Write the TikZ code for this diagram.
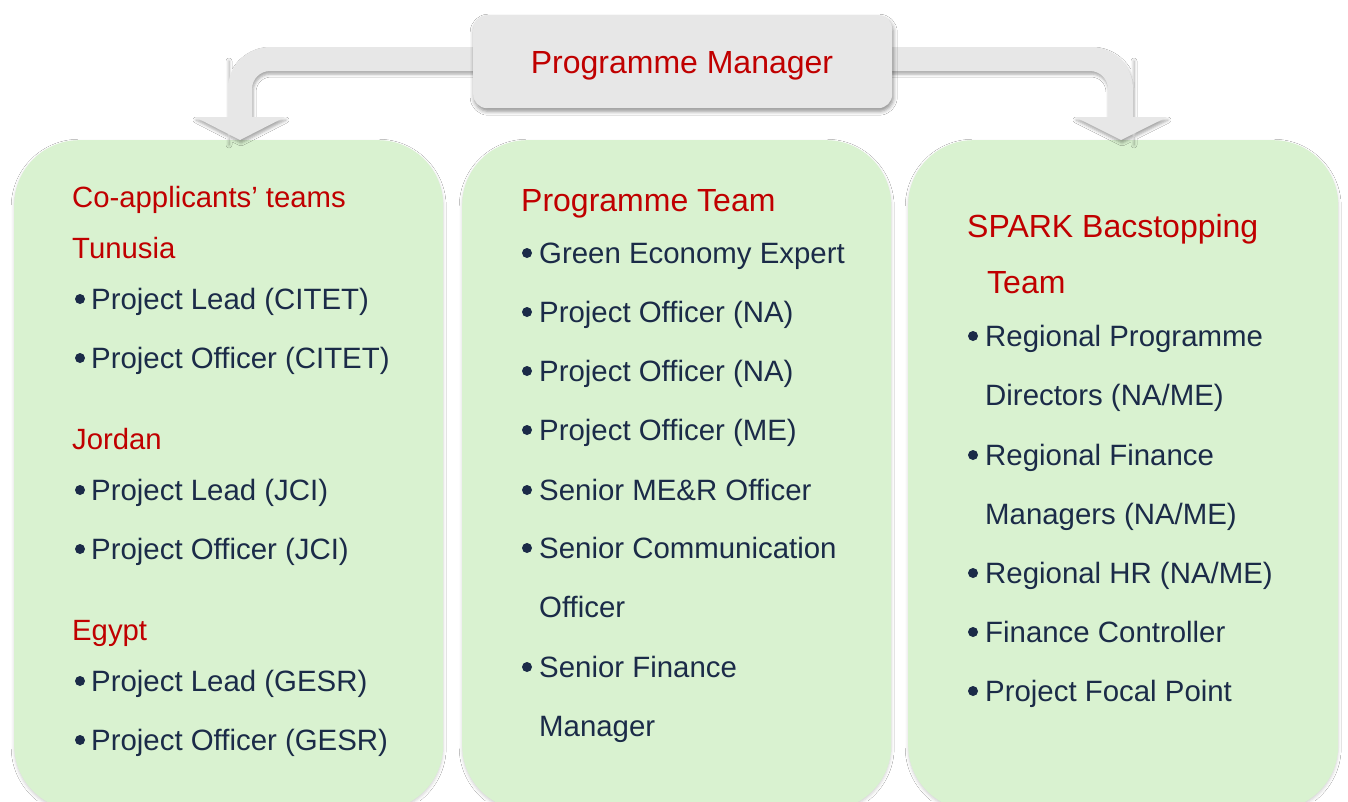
\documentclass[tikz,border=0pt]{standalone}
\usepackage{fontspec}
\setmainfont{Liberation Sans}
\usetikzlibrary{shadows.blur}
\definecolor{hdr}{HTML}{C00000}
\definecolor{bodyc}{HTML}{1B2B48}
\definecolor{boxg}{HTML}{D9F2D0}
\definecolor{greyb}{HTML}{E7E7E7}
\newcommand{\hd}[4]{\node[hdtext] (#1) at (#2,#3) {#4};}
\newcommand{\hdl}[4]{\node[hdtext,font=\fontsize{32}{32}\selectfont] (#1) at (#2,#3) {#4};}
\newcommand{\bl}[5]{\node[dot] (#1b) at (#2,#3-10) {}; \node[bodytext] (#1) at (#4,#3) {#5};}
\newcommand{\cl}[4]{\node[bodytext] (#1) at (#2,#3) {#4};}
\begin{document}
\begin{tikzpicture}[x=1pt,y=-1pt,
  greenbox/.style={fill=boxg, draw=none, rounded corners=65pt, inner sep=0,
    blur shadow={shadow xshift=0pt, shadow yshift=-2pt, shadow blur radius=3pt, shadow opacity=18}},
  topbox/.style={fill=greyb, draw=none, rounded corners=14pt, inner sep=0,
    blur shadow={shadow xshift=1pt, shadow yshift=-3pt, shadow blur radius=4pt, shadow opacity=45}},
  bentarrow/.style={fill=greyb, draw=none,
    blur shadow={shadow xshift=1pt, shadow yshift=-3pt, shadow blur radius=3pt, shadow opacity=35}},
  hdtext/.style={anchor=base west, inner sep=0, text=hdr, font=\fontsize{29.3}{29.3}\selectfont},
  bodytext/.style={anchor=base west, inner sep=0, text=bodyc, font=\fontsize{29.4}{29.4}\selectfont},
  dot/.style={circle, fill=bodyc, inner sep=0, minimum size=10pt},
]
\useasboundingbox (0,0) rectangle (1348,801);
\fill[white] (0,0) rectangle (1348,801);

% green boxes
\node[greenbox, anchor=north west, minimum width=429pt, minimum height=670pt] (left) at (14,140) {};
\node[greenbox, anchor=north west, minimum width=429pt, minimum height=670pt] (mid) at (462,140) {};
\node[greenbox, anchor=north west, minimum width=430pt, minimum height=670pt] (right) at (908,140) {};

% bent arrows
\path[bentarrow] (490,47) [rounded corners=42pt] -- (228,47) -- (228,100) [sharp corners] -- (228,117)
  -- (195,117) -- (240,140) -- (285,117) -- (252,117) -- (252,100) [rounded corners=18pt]
  -- (252,71) -- (320,71) [sharp corners] -- (490,71) -- cycle;
\path[bentarrow] (870,47) [rounded corners=42pt] -- (1133,47) -- (1133,100) [sharp corners] -- (1133,117)
  -- (1167,117) -- (1121,140) -- (1075,117) -- (1108,117) -- (1108,100) [rounded corners=18pt]
  -- (1108,71) -- (1040,71) [sharp corners] -- (870,71) -- cycle;

% top box
\node[topbox, anchor=north west, minimum width=419pt, minimum height=93pt] (pm) at (473,15) {};
\node[anchor=base, inner sep=0, text=hdr, font=\fontsize{32}{32}\selectfont] (pmtext) at (682,73) {Programme Manager};

% left box
\hd{l1}{72}{207}{Co-applicants’ teams}
\hd{l2}{72}{258}{Tunusia}
\bl{l3}{80}{309}{91}{Project Lead (CITET)}
\bl{l4}{80}{368}{91}{Project Officer (CITET)}
\hd{l5}{72}{449}{Jordan}
\bl{l6}{80}{500}{91}{Project Lead (JCI)}
\bl{l7}{80}{559}{91}{Project Officer (JCI)}
\hd{l8}{72}{640}{Egypt}
\bl{l9}{80}{691}{91}{Project Lead (GESR)}
\bl{l10}{80}{750}{91}{Project Officer (GESR)}

% middle box
\hdl{m1}{521}{211}{Programme Team}
\bl{m2}{527}{263}{539}{Green Economy Expert}
\bl{m3}{527}{322}{539}{Project Officer (NA)}
\bl{m4}{527}{381}{539}{Project Officer (NA)}
\bl{m5}{527}{440}{539}{Project Officer (ME)}
\bl{m6}{527}{500}{539}{Senior ME\&R Officer}
\bl{m7}{527}{558}{539}{Senior Communication}
\cl{m8}{539}{617}{Officer}
\bl{m9}{527}{677}{539}{Senior Finance}
\cl{m10}{539}{736}{Manager}

% right box
\hdl{r1}{967}{237}{SPARK Bacstopping}
\hdl{r2}{987}{293}{Team}
\bl{r3}{973}{346}{985}{Regional Programme}
\cl{r4}{985}{405}{Directors (NA/ME)}
\bl{r5}{973}{465}{985}{Regional Finance}
\cl{r6}{985}{524}{Managers (NA/ME)}
\bl{r7}{973}{583}{985}{Regional HR (NA/ME)}
\bl{r8}{973}{642}{985}{Finance Controller}
\bl{r9}{973}{701}{985}{Project Focal Point}
\end{tikzpicture}
\end{document}
